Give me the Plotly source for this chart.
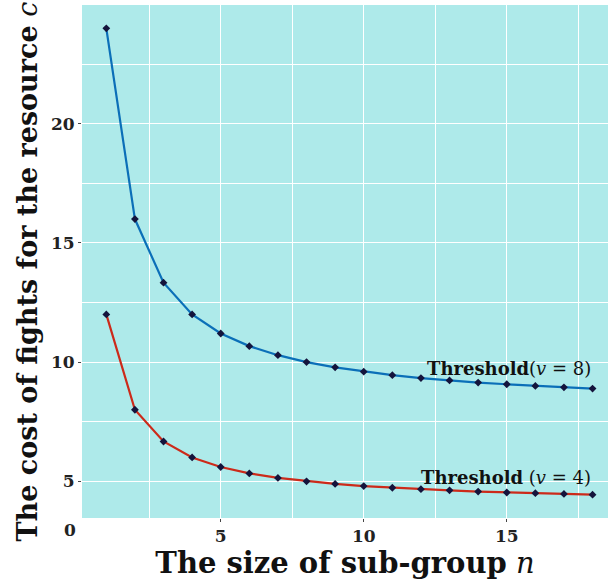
import plotly.graph_objects as go

n_vals = list(range(1, 19))
cost_v8 = [24, 16, 13.33, 12, 11.2, 10.67, 10.29, 10, 9.78, 9.6, 9.45, 9.33, 9.23, 9.14, 9.07, 9, 8.94, 8.89]
cost_v4 = [12, 8, 6.67, 6, 5.6, 5.33, 5.14, 5, 4.89, 4.8, 4.73, 4.67, 4.62, 4.57, 4.53, 4.5, 4.47, 4.44]
x_ticks = [5, 10, 15]
y_ticks = [5, 10, 15, 20]

FONT = "DejaVu Serif"
marker = dict(symbol="diamond", size=6, color="#14143c")

fig = go.Figure()
fig.add_trace(go.Scatter(x=n_vals, y=cost_v8, mode="lines+markers",
                         line=dict(color="#0b6fb8", width=2.2), marker=marker))
fig.add_trace(go.Scatter(x=n_vals, y=cost_v4, mode="lines+markers",
                         line=dict(color="#cc2a1a", width=2.2), marker=marker))

fig.add_annotation(x=18, y=8.89, xref="x", yref="y", text="<b>Threshold</b>(<i>v</i> = 8)",
                   showarrow=False, xanchor="right", yanchor="bottom", yshift=8,
                   font=dict(family=FONT, size=18, color="#111"))
fig.add_annotation(x=18, y=4.44, xref="x", yref="y", text="<b>Threshold</b> (<i>v</i> = 4)",
                   showarrow=False, xanchor="right", yanchor="bottom", yshift=5,
                   font=dict(family=FONT, size=18, color="#111"))
fig.add_annotation(x=-0.023, y=-0.024, xref="x domain", yref="y domain", text="<b>0</b>",
                   showarrow=False, xanchor="center", yanchor="middle",
                   font=dict(family=FONT, size=17, color="#222"))
# y-axis title placed as an annotation (slightly below the panel centre, as in the reference)
fig.add_annotation(x=0, y=0.5, xref="x domain", yref="y domain", xshift=-55, yshift=-10,
                   text="<b>The cost of fights for the resource</b> <i>c</i>", textangle=-90,
                   showarrow=False, xanchor="center", yanchor="middle",
                   font=dict(family=FONT, size=27, color="#111"))

fig.update_layout(
    width=608, height=581,
    margin=dict(l=82, r=0, t=5, b=63, autoexpand=False),
    paper_bgcolor="white", plot_bgcolor="#aeeaea",
    showlegend=False,
    font=dict(family=FONT, color="#222"),
)
fig.update_xaxes(range=[0.15, 18.54], tickvals=x_ticks, ticktext=[f"<b>{v}</b>" for v in x_ticks],
                 automargin=False,
                 showgrid=True, gridcolor="white", gridwidth=1.2,
                 minor=dict(dtick=2.5, tick0=0, showgrid=True, gridcolor="white", gridwidth=0.8),
                 ticks="outside", ticklen=3, tickcolor="#444", zeroline=False,
                 tickfont=dict(family=FONT, size=17, color="#222"),
                 title=dict(text="<b>The size of sub-group</b> <i>n</i>", standoff=2,
                            font=dict(family=FONT, size=29, color="#111")))
fig.update_yaxes(range=[3.46, 24.98], tickvals=y_ticks, ticktext=[f"<b>{v}</b>" for v in y_ticks],
                 automargin=False,
                 showgrid=True, gridcolor="white", gridwidth=1.2,
                 minor=dict(dtick=2.5, tick0=0, showgrid=True, gridcolor="white", gridwidth=0.8),
                 ticks="outside", ticklen=3, tickcolor="#444", zeroline=False,
                 tickfont=dict(family=FONT, size=17, color="#222"))

fig.write_html("out.html", post_script="document.body.style.margin='0';",
               config={"displayModeBar": False})
